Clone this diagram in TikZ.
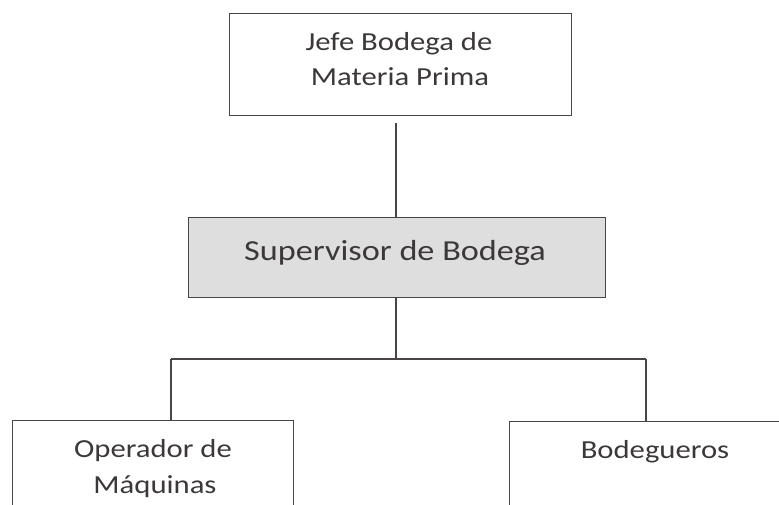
\documentclass[tikz,border=0pt]{standalone}
\usepackage{fontspec}
\setmainfont{Carlito}[FakeStretch=1.18]
\definecolor{linec}{HTML}{4A4545}
\definecolor{textc}{HTML}{3C3838}
\definecolor{fillc}{HTML}{DEDEDE}
\begin{document}
\begin{tikzpicture}[x=1pt,y=-1pt,
  box/.style={draw=linec, line width=1.4pt, inner sep=0pt, anchor=north west},
  conn/.style={draw=linec, line width=1.2pt},
  txt/.style={text=textc, inner sep=0pt, anchor=base, font=\fontsize{26}{35}\selectfont},
  bigtxt/.style={txt, font=\fontsize{29}{35}\selectfont}]
\useasboundingbox (0,0) rectangle (779,504);
\clip (0,0) rectangle (779,504);
\fill[white] (0,0) rectangle (779,504);
% boxes
\node[box, minimum width=342pt, minimum height=102pt] (jefe) at (229,13) {};
\node[box, fill=fillc, minimum width=417pt, minimum height=80pt] (sup) at (188,217) {};
\node[box, minimum width=281pt, minimum height=120pt] (op) at (12,420) {};
\node[box, minimum width=292pt, minimum height=120pt] (bod) at (509,421) {};
% texts
\node[txt] (jefe1) at (399,50) {Jefe Bodega de};
\node[txt] (jefe2) at (400,85) {Materia Prima};
\node[bigtxt] (supt) at (395,260) {Supervisor de Bodega};
\node[txt] (op1) at (153,457) {Operador de};
\node[txt] (op2) at (155,493) {Máquinas};
\node[txt] (bodt) at (655,458) {Bodegueros};
% connectors
\coordinate (topc) at (396,123);
\coordinate (bar) at (396,359);
\coordinate (barL) at (171,359);
\coordinate (barR) at (646,359);
\draw[conn] (topc) -- (topc |- sup.north);
\draw[conn] (sup.south -| bar) -- (bar);
\draw[conn] (barL) -- (barR);
\draw[conn] (barL) -- (barL |- op.north);
\draw[conn] (barR) -- (barR |- bod.north);
\end{tikzpicture}
\end{document}
